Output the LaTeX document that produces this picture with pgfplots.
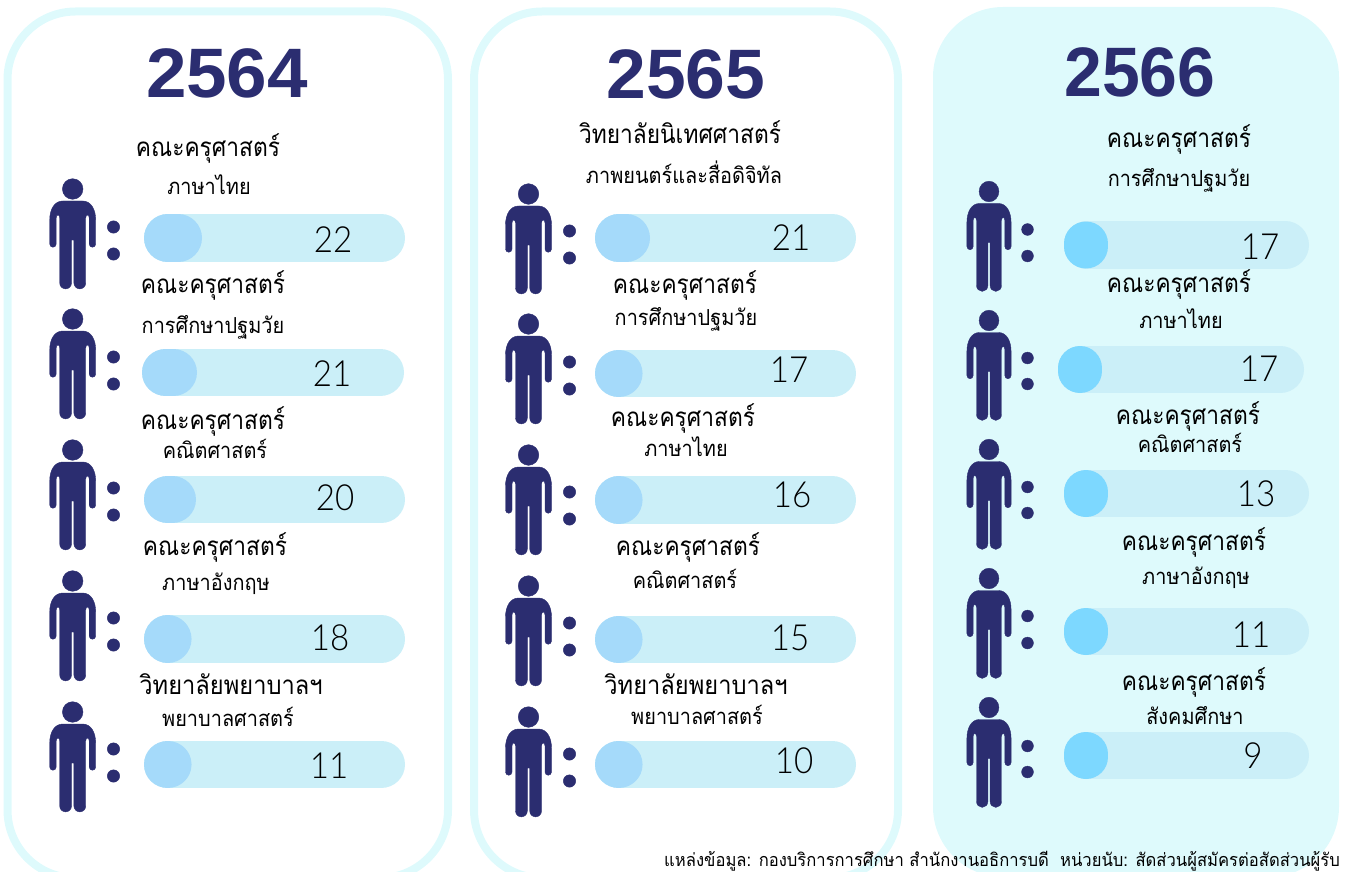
\documentclass[border=0pt]{standalone}
\usepackage{pgfplots}
\pgfplotsset{compat=1.18}
\usepackage{fontspec}
\setmainfont{Liberation Sans}
\newfontfamily\thaifont[Script=Thai]{Loma}
\newfontfamily\numfont{Lato Light}
\definecolor{navy}{HTML}{2B2D70}
\definecolor{panel}{HTML}{DEFAFC}
\definecolor{pill}{HTML}{CBEFF8}
\definecolor{fgA}{HTML}{A5DAFA}
\definecolor{fgB}{HTML}{7DD8FF}
\pgfdeclareplotmark{person}{%
  \fill[navy,x=1pt,y=1pt] (0,45) circle (10.3pt);
  \fill[navy,x=1pt,y=1pt] (-10,33) -- (10,33) .. controls (18,33) and (23,25) .. (23,14) -- (23,-10)
    arc[start angle=0,end angle=-180,radius=3.25pt] -- (16.5,16) .. controls (16.5,20) and (13,20) .. (13,16)
    -- (13,-49) arc[start angle=0,end angle=-180,radius=5.9pt] -- (1.2,-6) -- (-1.2,-6) -- (-1.2,-49)
    arc[start angle=0,end angle=-180,radius=5.9pt] -- (-13,16) .. controls (-13,20) and (-16.5,20) .. (-16.5,16)
    -- (-16.5,-10) arc[start angle=0,end angle=-180,radius=3.25pt] -- (-23,14) .. controls (-23,25) and (-18,33) .. (-10,33) -- cycle;
}
% #1,#2 pill ends, #3 y, #4,#5 fg ends, #6 fg colour
\newcommand\pillrow[6]{%
  \addplot[forget plot,pill,line width=47.5pt,line cap=round] coordinates {(#1,#3) (#2,#3)};
  \addplot[forget plot,#6,line width=47.5pt,line cap=round] coordinates {(#4,#3) (#5,#3)};
}
% x y value
\newcommand\val[3]{%
  \addplot[forget plot,draw=none,mark=none,point meta=explicit symbolic,
    nodes near coords={\fontsize{36}{36}\selectfont\numfont\pgfplotspointmeta},
    nodes near coords style={anchor=center,inner sep=0pt,black,xscale=.92}] coordinates {(#1,#2)[#3]};
}
\newcommand\ttl[3]{\node[anchor=base,inner sep=0pt,black,xscale=.875] at (axis cs:#1,#2) {\fontsize{26}{26}\selectfont\thaifont #3};}
\newcommand\ttlw[3]{\node[anchor=base,inner sep=0pt,black,xscale=.91] at (axis cs:#1,#2) {\fontsize{26}{26}\selectfont\thaifont #3};}
\newcommand\sub[3]{\node[anchor=base,inner sep=0pt,black,xscale=.905] at (axis cs:#1,#2) {\fontsize{22}{22}\selectfont\thaifont #3};}
\begin{document}
\begin{tikzpicture}
\useasboundingbox (0,0) rectangle (1345pt,872pt);
\begin{axis}[hide axis,scale only axis,width=1345pt,height=872pt,
  xmin=0,xmax=1345,ymin=0,ymax=872,y dir=reverse,clip=true]
% panels
\addplot[forget plot,panel,line width=8pt,rounded corners=68pt] coordinates {(228,11.5) (448,11.5) (448,878) (7.5,878) (7.5,11.5)} -- cycle;
\addplot[forget plot,panel,line width=8pt,rounded corners=68pt] coordinates {(686,11.5) (898,11.5) (898,878) (474,878) (474,11.5)} -- cycle;
\addplot[forget plot,fill=panel,draw=none,rounded corners=70pt] coordinates {(1136,7) (1339,7) (1339,877) (933,877) (933,7)} -- cycle;
% panel 2564
\pillrow{167.75}{381.25}{238}{167.75}{178.25}{fgA}
\pillrow{165.75}{380.25}{372.5}{165.75}{173.25}{fgA}
\pillrow{167.75}{381.25}{499.5}{167.75}{172.25}{fgA}
\pillrow{167.75}{381.25}{639}{167.75}{167.8}{fgA}
\pillrow{167.75}{381.25}{764.5}{167.75}{167.8}{fgA}
% panel 2565
\pillrow{618.75}{832.25}{238}{618.75}{626.25}{fgA}
\pillrow{618.75}{832.25}{373.5}{618.75}{618.8}{fgA}
\pillrow{618.75}{832.25}{500}{618.75}{618.8}{fgA}
\pillrow{618.75}{832.25}{639.5}{618.75}{618.8}{fgA}
\pillrow{618.75}{832.25}{764.5}{618.75}{618.8}{fgA}
% panel 2566
\pillrow{1087.75}{1285.25}{245}{1087.75}{1087.8}{pill}
\pillrow{1081.75}{1280.25}{369.5}{1081.75}{1081.8}{pill}
\pillrow{1087.75}{1285.25}{493.5}{1087.75}{1087.8}{pill}
\pillrow{1087.75}{1285.25}{631.5}{1087.75}{1087.8}{pill}
\pillrow{1087.75}{1285.25}{755.5}{1087.75}{1087.8}{pill}
\addplot[forget plot,fgB,line width=44pt,line cap=round] coordinates {(1086,243.5) (1086,246.5)};
\addplot[forget plot,fgB,line width=44pt,line cap=round] coordinates {(1080,368) (1080,371)};
\addplot[forget plot,fgB,line width=44pt,line cap=round] coordinates {(1086,492) (1086,495)};
\addplot[forget plot,fgB,line width=44pt,line cap=round] coordinates {(1086,630) (1086,633)};
\addplot[forget plot,fgB,line width=44pt,line cap=round] coordinates {(1086,754) (1086,757)};
% persons
\addplot[forget plot,only marks,mark=person] coordinates {(72.7,234)(72.7,364)(72.7,495)(72.7,626)(72.7,757)
  (528.5,239)(528.5,369)(528.5,500)(528.5,631)(528.5,762)};
\addplot[forget plot,only marks,mark=person,mark options={xscale=.96}] coordinates {
  (989,236.5)(989,365.5)(989,494.5)(989,623.5)(989,752.5)};
% colon dots
\addplot[forget plot,only marks,mark=*,mark size=6.2pt,navy,mark options={draw=none,fill=navy}] coordinates {
  (113.5,227)(113.5,254)(113.5,357)(113.5,384)(113.5,488)(113.5,515)(113.5,618)(113.5,645)(113.5,749)(113.5,776)
  (569.5,231)(569.5,258)(569.5,362)(569.5,389)(569.5,492)(569.5,519)(569.5,623)(569.5,650)(569.5,754)(569.5,781)};
\addplot[forget plot,only marks,mark=*,mark size=5.9pt,navy,mark options={draw=none,fill=navy}] coordinates {
  (1027.5,229.5)(1027.5,256)(1027.5,358)(1027.5,384)(1027.5,487)(1027.5,513)(1027.5,616)(1027.5,643)(1027.5,746)(1027.5,772)};
% values
\val{333}{240}{22}\val{332}{374}{21}\val{335}{498}{20}\val{330}{638}{18}\val{329}{766}{11}
\val{791}{238}{21}\val{789}{370}{17}\val{792}{495}{16}\val{790}{638}{15}\val{794}{761}{10}
\val{1260}{247}{17}\val{1259}{369}{17}\val{1256}{494}{13}\val{1251}{635}{11}\val{1253}{756}{9}
% years
\node[anchor=center,inner sep=0pt,navy,xscale=1.04] at (axis cs:227,73.5) {\fontsize{70}{70}\selectfont\bfseries 2564};
\node[anchor=center,inner sep=0pt,navy,xscale=1.02] at (axis cs:686,74) {\fontsize{70}{70}\selectfont\bfseries 2565};
\node[anchor=center,inner sep=0pt,navy,xscale=.97] at (axis cs:1140,72) {\fontsize{70}{70}\selectfont\bfseries 2566};
% labels
\ttl{208}{157}{คณะครุศาสตร์}\sub{209}{195}{ภาษาไทย}
\ttl{213}{293}{คณะครุศาสตร์}\sub{213}{333}{การศึกษาปฐมวัย}
\ttl{213}{429}{คณะครุศาสตร์}\sub{215}{458}{คณิตศาสตร์}
\ttl{215}{555}{คณะครุศาสตร์}\sub{216}{590}{ภาษาอังกฤษ}
\ttlw{231}{694}{วิทยาลัยพยาบาลฯ}\sub{228}{726}{พยาบาลศาสตร์}
\ttl{680}{144}{วิทยาลัยนิเทศศาสตร์}\sub{684}{183}{ภาพยนตร์และสื่อดิจิทัล}
\ttl{685}{293}{คณะครุศาสตร์}\sub{686}{325}{การศึกษาปฐมวัย}
\ttl{683}{426}{คณะครุศาสตร์}\sub{686}{456}{ภาษาไทย}
\ttl{688}{555}{คณะครุศาสตร์}\sub{685}{588}{คณิตศาสตร์}
\ttlw{696}{694}{วิทยาลัยพยาบาลฯ}\sub{697}{724}{พยาบาลศาสตร์}
\ttl{1179}{148}{คณะครุศาสตร์}\sub{1179}{187}{การศึกษาปฐมวัย}
\ttl{1179}{292}{คณะครุศาสตร์}\sub{1181}{328}{ภาษาไทย}
\ttl{1188}{424}{คณะครุศาสตร์}\sub{1190}{452}{คณิตศาสตร์}
\ttl{1194}{550}{คณะครุศาสตร์}\sub{1196}{584}{ภาษาอังกฤษ}
\ttl{1194}{690}{คณะครุศาสตร์}\sub{1195}{724}{สังคมศึกษา}
\node[anchor=base east,inner sep=0pt,black,xscale=.923] at (axis cs:1340,866) {\fontsize{18}{18}\selectfont\thaifont แหล่งข้อมูล: กองบริการการศึกษา สำนักงานอธิการบดี\ \ หน่วยนับ: สัดส่วนผู้สมัครต่อสัดส่วนผู้รับ};
\end{axis}
\end{tikzpicture}
\end{document}
